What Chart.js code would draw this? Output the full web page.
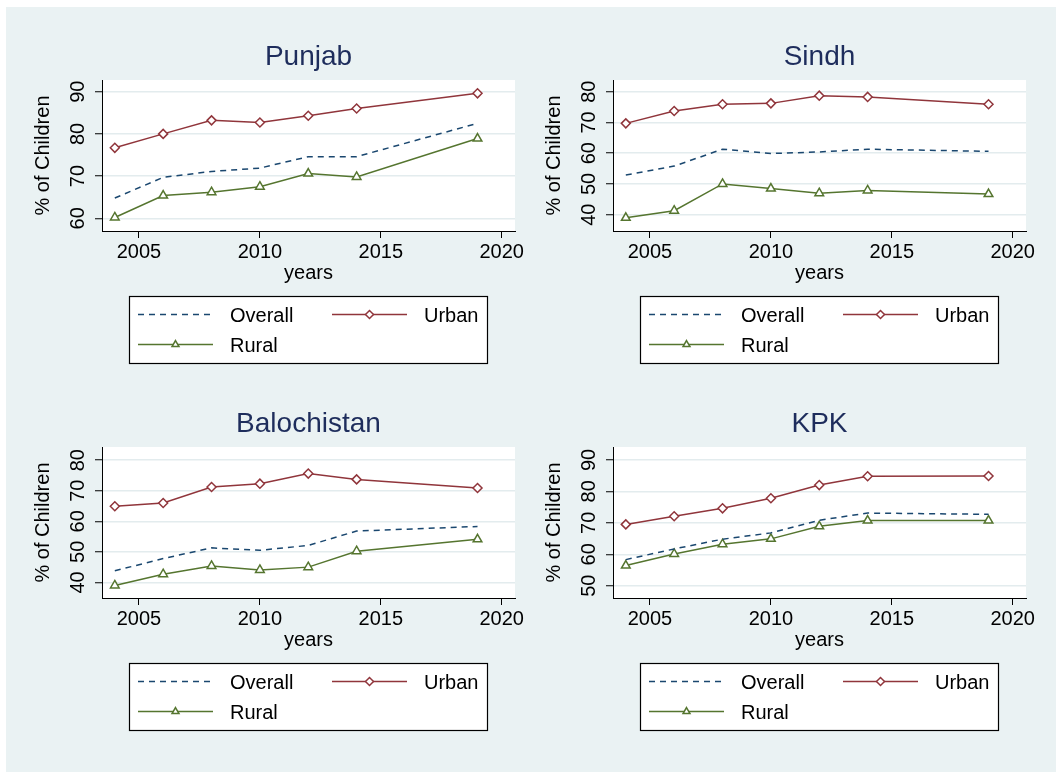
<!DOCTYPE html>
<html>
<head>
<meta charset="utf-8">
<script src="https://cdn.jsdelivr.net/npm/chart.js@4.4.1/dist/chart.umd.min.js"></script>
<style>
  body { margin: 0; background: #fff; width: 1056px; height: 772px; overflow: hidden; position: relative; }
  #bg { position: absolute; left: 6px; top: 7px; right: 0; bottom: 0; background: #eaf2f3; }
  canvas { position: absolute; }
</style>
</head>
<body>
<div id="bg"></div>
<canvas id="c0" width="528" height="367" style="left:0;top:0"></canvas>
<canvas id="c1" width="528" height="367" style="left:511px;top:0"></canvas>
<canvas id="c2" width="528" height="367" style="left:0;top:367px"></canvas>
<canvas id="c3" width="528" height="367" style="left:511px;top:367px"></canvas>
<script>
// survey years and axis ticks
const years = [2004, 2006, 2008, 2010, 2012, 2014, 2019];
const xTicks = [2005, 2010, 2015, 2020];

// % of children
const punjabOverall = [64.8, 69.7, 71.1, 71.9, 74.6, 74.6, 82.5];
const punjabUrban   = [76.7, 80.0, 83.2, 82.7, 84.3, 86.0, 89.6];
const punjabRural   = [60.2, 65.4, 66.2, 67.5, 70.6, 69.8, 78.9];
const punjabTicks   = [60, 70, 80, 90];

const sindhOverall = [52.9, 55.8, 61.3, 59.9, 60.4, 61.3, 60.6];
const sindhUrban   = [69.7, 73.7, 75.9, 76.2, 78.7, 78.3, 75.9];
const sindhRural   = [39.0, 41.3, 50.0, 48.5, 47.0, 47.9, 46.7];
const sindhTicks   = [40, 50, 60, 70, 80];

const balOverall = [43.8, 47.8, 51.3, 50.5, 52.1, 56.8, 58.3];
const balUrban   = [64.9, 66.0, 71.2, 72.3, 75.6, 73.7, 70.9];
const balRural   = [39.0, 42.7, 45.4, 44.1, 45.0, 50.2, 54.1];
const balTicks   = [40, 50, 60, 70, 80];

const kpkOverall = [58.3, 61.7, 64.8, 66.8, 70.8, 73.1, 72.7];
const kpkUrban   = [69.5, 72.1, 74.6, 77.8, 82.0, 84.8, 84.9];
const kpkRural   = [56.4, 60.1, 63.2, 64.9, 68.9, 70.7, 70.7];
const kpkTicks   = [50, 60, 70, 80, 90];

const FONT = "'Liberation Sans', Arial, Helvetica, sans-serif";
const NAVY = '#1a476f', MAROON = '#90353b', GREEN = '#55752f';

// white plot region
const plotBg = {
  id: 'plotBg',
  beforeDraw(chart) {
    const { ctx, chartArea: a } = chart;
    ctx.save();
    ctx.fillStyle = '#fff';
    ctx.fillRect(a.left, a.top, a.right - a.left, a.bottom - a.top);
    ctx.restore();
  }
};

// stata-like boxed legend under each panel
const legendBox = {
  id: 'legendBox',
  afterDraw(chart) {
    const { ctx, chartArea } = chart;
    const cx = (chartArea.left + chartArea.right) / 2;
    const w = 359, h = 68;
    const left = Math.round(cx - w / 2), top = chartArea.bottom + 65;
    ctx.save();
    ctx.fillStyle = '#fff';
    ctx.fillRect(left, top, w, h);
    ctx.strokeStyle = '#000';
    ctx.lineWidth = 1.2;
    ctx.strokeRect(left + 0.5, top + 0.5, w - 1, h - 1);
    const slots = [[9, 18.5], [203, 18.5], [9, 48.5]];
    chart.data.datasets.forEach((ds, i) => {
      const x0 = left + slots[i][0], y = top + slots[i][1];
      ctx.beginPath();
      ctx.setLineDash(ds.borderDash || []);
      ctx.strokeStyle = ds.borderColor;
      ctx.lineWidth = ds.borderWidth;
      ctx.moveTo(x0, y);
      ctx.lineTo(x0 + 75, y);
      ctx.stroke();
      ctx.setLineDash([]);
      if (ds.pointRadius > 0) {
        ctx.fillStyle = '#fff';
        ctx.strokeStyle = ds.borderColor;
        ctx.lineWidth = ds.pointBorderWidth;
        Chart.helpers.drawPoint(ctx, { pointStyle: ds.pointStyle, radius: 4, borderWidth: ds.pointBorderWidth, rotation: 0 }, x0 + 37.5, y);
      }
      ctx.fillStyle = '#000';
      ctx.font = '20px ' + FONT;
      ctx.textBaseline = 'middle';
      ctx.textAlign = 'left';
      ctx.fillText(ds.label, x0 + 92, y + 1.5);
    });
    ctx.restore();
  }
};

function pts(vals) {
  return years.map((x, i) => ({ x: x, y: vals[i] }));
}

function makeChart(id, title, overall, urban, rural, yTicks, yMin, yMax) {
  new Chart(document.getElementById(id), {
    type: 'line',
    data: {
      datasets: [
        { label: 'Overall', data: pts(overall), borderColor: NAVY, borderDash: [6, 5], borderWidth: 1.5, pointRadius: 0 },
        { label: 'Urban', data: pts(urban), borderColor: MAROON, borderWidth: 1.5, pointStyle: 'rectRot', pointRadius: 4.5,
          pointBorderWidth: 1.5, pointBackgroundColor: '#fff', pointBorderColor: MAROON },
        { label: 'Rural', data: pts(rural), borderColor: GREEN, borderWidth: 1.5, pointStyle: 'triangle', pointRadius: 5,
          pointBorderWidth: 1.5, pointBackgroundColor: '#fff', pointBorderColor: GREEN }
      ]
    },
    options: {
      responsive: false,
      animation: false,
      devicePixelRatio: 1,
      layout: { padding: { top: 0, left: 0, right: 13, bottom: 81.8 } },
      plugins: {
        legend: { display: false },
        tooltip: { enabled: false },
        title: {
          display: true, text: title, fullSize: false, color: '#1e2d5c',
          font: { family: FONT, size: 28, weight: 'normal' },
          padding: { top: 40.5, bottom: 5.9 }
        }
      },
      scales: {
        x: {
          type: 'linear', min: 2003.47, max: 2020.55,
          afterBuildTicks: s => { s.ticks = xTicks.map(v => ({ value: v })); },
          afterFit: s => { s.height = 54.2; s.paddingLeft = 0; s.paddingRight = 0; },
          ticks: { color: '#000', font: { family: FONT, size: 20 }, padding: 2, maxRotation: 0, callback: v => String(v) },
          grid: { drawOnChartArea: false, tickLength: 7, tickColor: '#000', tickWidth: 1 },
          border: { color: '#000', width: 1 },
          title: { display: true, text: 'years', color: '#000', font: { family: FONT, size: 20 }, padding: { top: 0, bottom: 0 } }
        },
        y: {
          min: yMin, max: yMax,
          afterBuildTicks: s => { s.ticks = yTicks.map(v => ({ value: v })); },
          afterFit: s => { s.width = 102; },
          ticks: { color: '#000', font: { family: FONT, size: 20 }, minRotation: 90, maxRotation: 90, crossAlign: 'center', padding: 5.5 },
          grid: { color: '#e3ecee', lineWidth: 1.5, tickLength: 7, tickColor: '#000', tickWidth: 1 },
          border: { color: '#000', width: 1 },
          title: { display: true, text: '% of Children', color: '#000', font: { family: FONT, size: 20 }, padding: { top: 31, bottom: 0 } }
        }
      }
    },
    plugins: [plotBg, legendBox]
  });
}

makeChart('c0', 'Punjab', punjabOverall, punjabUrban, punjabRural, punjabTicks, 57.0, 92.76);
makeChart('c1', 'Sindh', sindhOverall, sindhUrban, sindhRural, sindhTicks, 34.7, 83.8);
makeChart('c2', 'Balochistan', balOverall, balUrban, balRural, balTicks, 34.9, 84.3);
makeChart('c3', 'KPK', kpkOverall, kpkUrban, kpkRural, kpkTicks, 46.1, 94.1);
</script>
</body>
</html>
